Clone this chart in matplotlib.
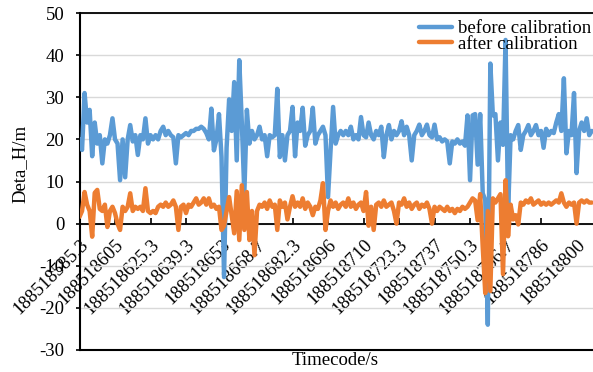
import matplotlib
matplotlib.use("Agg")
import matplotlib.pyplot as plt
import numpy as np

plt.rcParams['font.family'] = ['Liberation Serif', 'DejaVu Serif']
plt.rcParams['axes.unicode_minus'] = False

tick_labels = ["188518585.3", "188518605", "188518625.3", "188518639.3", "188518653",
               "188518668.7", "188518682.3", "188518696", "188518710", "188518723.3",
               "188518737", "188518750.3", "188518766.7", "188518786", "188518800"]
points_per_label = 14

before = [
    20, 17.5, 31, 24, 27, 16, 24, 19, 21, 14.3,
    20, 19, 21, 25, 20, 19, 10.3, 20, 11, 20,
    23.4, 19.5, 21, 16.3, 21, 20, 25, 19, 21, 20,
    21, 20, 22, 23, 21, 22, 21, 20.5, 14.3, 21,
    20.5, 21, 21.5, 21, 22, 22, 22.5, 22.5, 23, 22.5,
    21.5, 20, 27.3, 17.4, 20, 26, 15.8, -12.7, 18, 29.5,
    22, 33.6, 15, 38.8, 24, 7.2, 27, 19, 22, 20,
    21, 23, 20, 21, 16, 21, 20.5, 21, 32, 15.8,
    21, 15, 21, 22, 27.7, 16, 24, 22, 27.5, 18.5,
    21, 22, 27.5, 19, 21, 22, 23, 21, 6.3, 17.4,
    27.7, 19, 21, 22, 21, 22, 21, 23, 20, 21,
    20, 25.3, 21, 20.5, 24, 21, 20, 22, 21, 23,
    15.8, 21, 23.4, 20, 22, 21, 22, 24.3, 21, 23,
    21, 15, 21, 22, 23.5, 21, 22, 23.5, 21, 20.5,
    23.5, 20, 20.5, 19.5, 20, 19.5, 14.3, 19.5, 19, 20,
    19, 19.5, 18.5, 25.7, 10.3, 25.7, 26, 14, 26, 7.2,
    5.6, -24, 38, 25.7, 26, 15, 24, 18.7, 43.6, 2.5,
    21, 20, 22, 23.4, 17.5, 21, 22, 23.4, 21, 22,
    23.4, 21, 22, 18, 22.5, 21, 22, 21.5, 24, 26,
    22, 34.5, 16.7, 22, 21, 31, 12, 22, 24, 22,
    25, 21, 22]

after = [
    1.6, 3, 7.5, 4.5, 3, -3.1, 7.3, 8, 3.5, 3,
    4.5, -0.8, 3, 4, 2.5, 0, -1.5, 4, 3, 4,
    7.2, 3, 4, 3.5, 4, 3, 8.4, 3, 2.5, 3,
    2.5, 4, 4.5, 4, 5, 4, 4.5, 5.5, 4, -1.5,
    4, 4.5, 2.5, 4.5, 4, 5, 6, 4.5, 5, 6,
    4.5, 6, 4, 4.5, 3.5, 4, -1.5, -0.5, 3, 6.3,
    2, -2.3, 7.7, -3.9, 9.1, -1.5, 7.5, -3.9, 3, -7.5,
    3, 4.5, 4, 5, 3.5, 5.5, 4, 4.5, -1.5, 5.5,
    4, 5, 1, 4, 6.5, 4, 5, 4, 6, 3.5,
    5, 4, 2, 4, 3.5, 5.5, 9.6, -1.5, 3, 5.5,
    4, 5, 3.5, 4.5, 5, 4, 6, 4, 5, 3.5,
    4.5, 5, 3, 7.5, -0.5, 4, -1.5, 4.5, 5, 4,
    5.5, 4, 4.5, 5, 3, 0, 5, 4.5, 6, 4,
    5, 3.5, 4.5, 5, 3.5, 4.5, 4, 5, 3.5, 0,
    4, 3, 4, 3.5, 3, 4, 3, 3.5, 2.5, 3.5,
    3, 4, 3.5, 4, 5, 6, 5.5, 0.8, 7, -5.5,
    -16.5, 3, -16, 6, 5, 6, 7, -12, 10.3, -3,
    4.5, 1, 2, -0.2, 5, 4.5, 5.5, 5, 6, 4.5,
    5, 5.5, 4.5, 5, 4.5, 5, 4.5, 5, 5.5, 5,
    7.2, 5, 4, 5, 4.5, 5, 0, 5, 5.5, 5,
    5.5, 5, 5]

FS = 13.5
fig = plt.figure(figsize=(5.93, 3.72), dpi=100)
ax = fig.add_axes([79.5/593, 22/372, 513.5/593, 337/372])

# spines first (set_position resets ticks)
ax.spines['bottom'].set_position(('data', 0))
ax.spines['bottom'].set_linewidth(1.3)
ax.spines['left'].set_linewidth(1.5)
ax.spines['top'].set_linewidth(1.3)
ax.spines['right'].set_visible(False)

idx = np.arange(len(before))
ax.plot(idx, before, color='#5B9BD5', lw=3.2, solid_joinstyle='round',
        solid_capstyle='round', label='before calibration', zorder=3)
ax.plot(idx, after, color='#ED7D31', lw=3.2, solid_joinstyle='round',
        solid_capstyle='round', label='after calibration', zorder=4)

ax.set_ylim(-30, 50)
ax.set_xlim(0, 513.5/2.536)
ax.set_yticks(np.arange(-30, 51, 10))
ax.yaxis.grid(True, color='#D9D9D9', lw=1.0)
ax.set_axisbelow(True)
ax.axhline(-30, color='black', lw=1.5, clip_on=False, zorder=5)

ax.tick_params(axis='x', direction='in', length=4.5, width=1.2, pad=9, colors='black')
ax.tick_params(axis='y', direction='out', length=3, width=1.2, pad=8, labelsize=FS)

tpos = np.arange(len(tick_labels)) * points_per_label
ax.set_xticks(tpos)
ax.set_xticklabels(tick_labels)
for lab in ax.get_xticklabels():
    lab.set_rotation(45)
    lab.set_ha('right')
    lab.set_va('top')
    lab.set_rotation_mode('anchor')
    lab.set_fontsize(FS)

ax.set_xlabel('Timecode/s', fontsize=FS)
ax.xaxis.set_label_coords(0.497, -0.03)
ax.xaxis.label.set_va('center')
ax.set_ylabel('Deta_H/m', fontsize=FS)
ax.yaxis.set_label_coords(-0.116, 0.552)
ax.yaxis.label.set_va('center')

leg = ax.legend(loc='upper right', bbox_to_anchor=(591/593, 1 - 20/372),
                bbox_transform=fig.transFigure, frameon=False, fontsize=FS,
                handlelength=1.75, handletextpad=0.3, labelspacing=-0.08,
                borderpad=0, borderaxespad=0)
leg.set_zorder(10)

fig.savefig('out.png', dpi=100)
